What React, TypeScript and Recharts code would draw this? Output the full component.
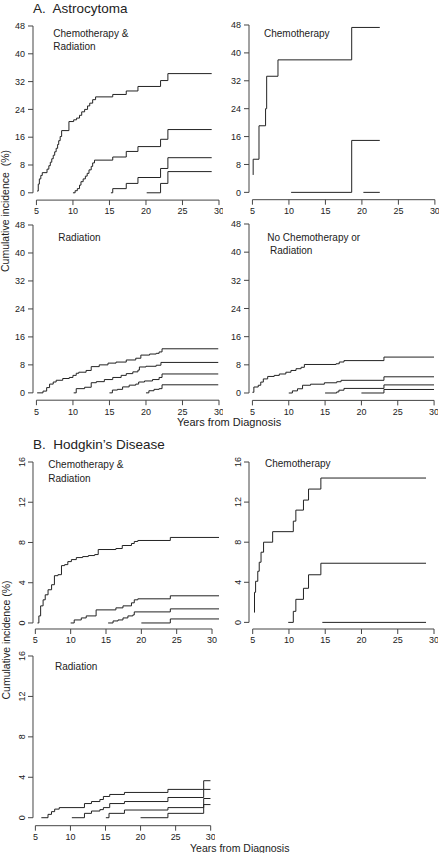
import React from "react";
import { LineChart, Line, XAxis, YAxis, ReferenceLine } from "recharts";

type Pt = [number, number];

const FONT = "'Liberation Sans', Arial, sans-serif";
const INK = "#222";
const AXIS = "#444";

const X_TICKS = [5, 10, 15, 20, 25, 30];
const ASTRO_Y_TICKS = [0, 8, 16, 24, 32, 40, 48];
const HODG_Y_TICKS = [0, 4, 8, 12, 16];

// A. Astrocytoma — chemotherapy & radiation
const AST_CR_1: Pt[] = [
  [5.1, 0.5], [5.25, 2.5], [5.4, 4.0], [5.6, 5.0], [5.8, 5.8], [6.45, 6.8], [6.7, 7.8], [6.9, 8.8],
  [7.1, 9.8], [7.3, 10.8], [7.5, 11.8], [7.7, 12.8], [7.9, 13.9], [8.05, 15.0], [8.25, 16.2], [8.45, 17.9],
  [9.45, 20.5], [10.1, 21.0], [10.5, 21.5], [10.9, 22.3], [11.2, 23.3], [11.6, 24.0], [12.0, 25.0],
  [12.3, 25.8], [12.7, 26.8], [13.1, 27.6], [15.45, 28.3], [17.3, 29.3], [18.9, 30.6], [22.0, 32.3],
  [23.0, 34.3], [29.0, 34.3],
];
const AST_CR_2: Pt[] = [
  [10.0, 0], [10.3, 0.6], [10.6, 1.2], [10.9, 2.2], [11.1, 3.2], [11.4, 4.0], [11.7, 4.8], [11.95, 5.6],
  [12.2, 6.6], [12.5, 7.6], [12.7, 8.6], [12.95, 9.4], [15.45, 10.3], [17.3, 11.9], [18.9, 13.3],
  [22.0, 15.4], [23.0, 18.2], [29.0, 18.2],
];
const AST_CR_3: Pt[] = [[15.2, 0], [15.45, 1.2], [17.3, 2.7], [18.9, 4.4], [22.0, 7.0], [23.0, 10.1], [29.0, 10.1]];
const AST_CR_4: Pt[] = [[20.1, 0], [22.0, 2.7], [23.0, 6.1], [29.0, 6.1]];

// A. Astrocytoma — chemotherapy
const AST_C_1: Pt[] = [[5.1, 5.0], [5.1, 9.5], [5.9, 19.1], [6.8, 24.0], [6.95, 33.3], [8.5, 38.0], [18.6, 47.3], [22.45, 47.3]];
const AST_C_2: Pt[] = [[10.3, 0], [18.6, 14.9], [22.45, 14.9]];
const AST_C_3: Pt[] = [[20.2, 0], [22.45, 0]];

// A. Astrocytoma — radiation
const AST_R_1: Pt[] = [
  [5.1, 0], [5.9, 0.5], [6.4, 1.5], [6.8, 2.5], [7.3, 3.1], [7.7, 3.6], [8.6, 4.1], [9.5, 4.4], [10.0, 5.0],
  [10.45, 5.6], [10.8, 5.9], [11.8, 6.4], [12.5, 7.5], [13.6, 8.0], [14.8, 8.5], [15.9, 8.8], [17.3, 9.4],
  [18.6, 9.9], [19.3, 10.8], [20.5, 11.1], [21.4, 11.3], [21.8, 11.7], [22.2, 12.6], [29.9, 12.6],
];
const AST_R_2: Pt[] = [
  [10.1, 0], [10.45, 1.2], [11.6, 1.6], [12.5, 2.9], [13.2, 3.2], [14.3, 3.8], [15.45, 4.4], [16.6, 5.0],
  [17.3, 5.5], [18.2, 6.0], [18.9, 6.5], [19.1, 7.4], [20.0, 7.6], [21.4, 7.9], [22.05, 8.7], [29.9, 8.7],
];
const AST_R_3: Pt[] = [
  [15.0, 0], [15.4, 0.8], [16.1, 1.0], [16.8, 1.7], [17.7, 2.2], [18.6, 2.5], [19.0, 3.1], [19.8, 3.4],
  [20.9, 3.8], [21.8, 4.4], [22.2, 5.4], [29.9, 5.4],
];
const AST_R_4: Pt[] = [[20.0, 0], [20.4, 0.6], [21.1, 1.0], [21.8, 1.2], [22.2, 2.3], [29.9, 2.3]];

// A. Astrocytoma — no chemotherapy or radiation
const AST_N_1: Pt[] = [
  [5.0, 0.2], [5.2, 1.7], [5.8, 2.2], [6.15, 3.1], [6.5, 4.0], [7.1, 4.7], [8.0, 5.0], [8.7, 5.4], [9.6, 5.9],
  [10.3, 6.4], [11.0, 6.9], [11.7, 7.3], [12.15, 8.1], [16.5, 8.3], [16.95, 8.8], [17.6, 9.2], [23.1, 10.2],
  [30.0, 10.2],
];
const AST_N_2: Pt[] = [
  [10.0, 0], [10.5, 0.6], [11.2, 1.2], [11.9, 2.2], [13.0, 2.5], [14.9, 2.9], [16.6, 3.2], [17.2, 3.6],
  [23.1, 4.6], [30.0, 4.6],
];
const AST_N_3: Pt[] = [[15.0, 0], [16.6, 0.3], [16.9, 0.8], [17.6, 1.3], [23.1, 2.3], [30.0, 2.3]];
const AST_N_4: Pt[] = [[20.0, 0], [23.1, 1.0], [30.0, 1.0]];

// B. Hodgkin's disease — chemotherapy & radiation
const HD_CR_1: Pt[] = [
  [5.3, 0], [5.5, 0.7], [5.75, 1.7], [6.1, 2.3], [6.4, 2.8], [6.8, 3.3], [7.3, 3.8], [7.7, 4.7], [8.2, 4.8],
  [8.7, 5.7], [9.15, 5.8], [9.6, 6.1], [10.1, 6.3], [10.8, 6.5], [11.7, 6.6], [12.5, 6.7], [13.4, 6.8],
  [13.9, 7.3], [16.4, 7.4], [17.3, 7.7], [18.6, 7.9], [19.0, 8.1], [19.5, 8.2], [24.1, 8.5], [31.0, 8.5],
];
const HD_CR_2: Pt[] = [
  [10.0, 0], [10.5, 0.3], [11.5, 0.5], [12.2, 0.7], [13.6, 1.3], [16.4, 1.5], [17.4, 1.7], [18.6, 2.0],
  [19.0, 2.3], [19.5, 2.4], [24.1, 2.7], [31.0, 2.7],
];
const HD_CR_3: Pt[] = [
  [15.3, 0], [16.0, 0.2], [16.7, 0.3], [17.4, 0.5], [18.1, 0.7], [18.8, 0.8], [19.0, 1.1], [24.1, 1.4], [31.0, 1.4],
];
const HD_CR_4: Pt[] = [[20.0, 0], [24.1, 0.4], [31.0, 0.4]];

// B. Hodgkin's disease — chemotherapy
const HD_C_1: Pt[] = [
  [5.2, 1.0], [5.25, 3.0], [5.4, 4.1], [5.7, 5.1], [5.9, 6.0], [6.15, 7.0], [6.5, 8.0], [7.75, 9.05],
  [10.6, 10.1], [10.95, 11.2], [12.0, 12.2], [12.7, 13.3], [14.4, 14.4], [28.9, 14.4],
];
const HD_C_2: Pt[] = [[9.9, 0], [10.6, 1.1], [10.95, 2.3], [12.0, 3.4], [12.7, 4.75], [14.4, 5.9], [28.9, 5.9]];
const HD_C_3: Pt[] = [[14.6, 0], [28.9, 0]];

// B. Hodgkin's disease — radiation
const HD_R_1: Pt[] = [
  [5.85, 0], [6.8, 0.33], [7.3, 0.6], [7.75, 0.85], [8.4, 1.0], [12.0, 1.4], [13.0, 1.6], [14.2, 1.8],
  [14.7, 2.1], [15.6, 2.3], [17.7, 2.5], [23.9, 2.8], [29.0, 3.66], [30.0, 3.66],
];
const HD_R_2: Pt[] = [
  [10.2, 0], [12.0, 0.43], [13.0, 0.66], [14.2, 0.8], [14.7, 1.0], [15.6, 1.4], [17.7, 1.6], [23.9, 2.0],
  [29.0, 2.8], [30.0, 2.8],
];
const HD_R_3: Pt[] = [[15.05, 0], [15.5, 0.43], [17.7, 0.76], [23.9, 1.0], [29.0, 1.9], [30.0, 1.9]];
const HD_R_4: Pt[] = [[20.0, 0], [23.9, 0.43], [29.0, 1.3], [30.0, 1.3]];

type Box = { x0: number; x1: number; y0: number; y1: number };

// eslint-disable-next-line @typescript-eslint/no-explicit-any
function RotatedTick(props: any) {
  const { x, y, payload } = props;
  return (
    <text
      x={x}
      y={y}
      transform={`rotate(-90 ${x} ${y})`}
      textAnchor="middle"
      fontSize={9}
      fill={INK}
      fontFamily={FONT}
    >
      {payload.value}
    </text>
  );
}

function Panel({
  series,
  box,
  xDomain,
  yDomain,
  yTicks,
  rotateY = false,
}: {
  series: Pt[][];
  box: Box;
  xDomain: [number, number];
  yDomain: [number, number];
  yTicks: number[];
  rotateY?: boolean;
}) {
  const yAxisW = 34;
  const top = 8;
  const right = 4;
  const xAxisH = 22;
  const width = box.x1 - box.x0 + yAxisW + right;
  const height = box.y1 - box.y0 + top + xAxisH;
  const tickStyle = { fontSize: 9, fill: INK, fontFamily: FONT };

  return (
    <div style={{ position: "absolute", left: box.x0 - yAxisW, top: box.y0 - top }}>
      <LineChart width={width} height={height} margin={{ top, right, bottom: 0, left: 0 }}>
        <XAxis
          type="number"
          dataKey="t"
          domain={xDomain}
          ticks={X_TICKS}
          interval={0}
          allowDataOverflow
          axisLine={false}
          tickLine={{ stroke: AXIS }}
          tickSize={5}
          tickMargin={3}
          tick={tickStyle}
          height={xAxisH}
        />
        <YAxis
          type="number"
          domain={yDomain}
          ticks={yTicks}
          interval={0}
          allowDataOverflow
          axisLine={false}
          tickLine={{ stroke: AXIS }}
          tickSize={5}
          tickMargin={3}
          tick={rotateY ? <RotatedTick /> : tickStyle}
          width={yAxisW}
        />
        <ReferenceLine
          segment={[
            { x: X_TICKS[0], y: yDomain[0] },
            { x: X_TICKS[X_TICKS.length - 1], y: yDomain[0] },
          ]}
          stroke={AXIS}
          ifOverflow="visible"
        />
        <ReferenceLine
          segment={[
            { x: xDomain[0], y: yTicks[0] },
            { x: xDomain[0], y: yTicks[yTicks.length - 1] },
          ]}
          stroke={AXIS}
          ifOverflow="visible"
        />
        {series.map((s, i) => (
          <Line
            key={i}
            data={s.map(([t, v]) => ({ t, v }))}
            dataKey="v"
            type="stepAfter"
            stroke={INK}
            strokeWidth={1}
            dot={false}
            activeDot={false}
            isAnimationActive={false}
          />
        ))}
      </LineChart>
    </div>
  );
}

function Label({ x, y, lines, size = 10 }: { x: number; y: number; lines: string[]; size?: number }) {
  return (
    <>
      {lines.map((l, i) => (
        <text key={i} x={x} y={y + i * 13.5} fontSize={size} fill={INK} fontFamily={FONT} style={{ whiteSpace: "pre" }}>
          {l}
        </text>
      ))}
    </>
  );
}

export default function App() {
  return (
    <div style={{ position: "absolute", left: 0, top: 0, width: 441, height: 853, background: "#fff" }}>
      <Panel
        series={[AST_CR_1, AST_CR_2, AST_CR_3, AST_CR_4]}
        box={{ x0: 33.3, x1: 219.3, y0: 25.7, y1: 199.8 }}
        xDomain={[4.53, 30]}
        yDomain={[-2.1, 48]}
        yTicks={ASTRO_Y_TICKS}
      />
      <Panel
        series={[AST_C_1, AST_C_2, AST_C_3]}
        box={{ x0: 249.3, x1: 435.2, y0: 25.3, y1: 200 }}
        xDomain={[4.53, 30]}
        yDomain={[-2.1, 48]}
        yTicks={ASTRO_Y_TICKS}
      />
      <Panel
        series={[AST_R_1, AST_R_2, AST_R_3, AST_R_4]}
        box={{ x0: 33.3, x1: 219.3, y0: 224.8, y1: 400 }}
        xDomain={[4.53, 30]}
        yDomain={[-2.1, 48]}
        yTicks={ASTRO_Y_TICKS}
      />
      <Panel
        series={[AST_N_1, AST_N_2, AST_N_3, AST_N_4]}
        box={{ x0: 248.9, x1: 434, y0: 224.3, y1: 400.7 }}
        xDomain={[4.53, 30]}
        yDomain={[-2.1, 48]}
        yTicks={ASTRO_Y_TICKS}
      />
      <Panel
        series={[HD_CR_1, HD_CR_2, HD_CR_3, HD_CR_4]}
        box={{ x0: 33, x1: 219.1, y0: 462.3, y1: 629.3 }}
        xDomain={[4.67, 31]}
        yDomain={[-0.6, 16]}
        yTicks={HODG_Y_TICKS}
        rotateY
      />
      <Panel
        series={[HD_C_1, HD_C_2, HD_C_3]}
        box={{ x0: 249, x1: 434, y0: 462.3, y1: 629.3 }}
        xDomain={[4.49, 30]}
        yDomain={[-0.66, 16]}
        yTicks={HODG_Y_TICKS}
        rotateY
      />
      <Panel
        series={[HD_R_1, HD_R_2, HD_R_3, HD_R_4]}
        box={{ x0: 33.3, x1: 211, y0: 656, y1: 825.7 }}
        xDomain={[4.66, 30]}
        yDomain={[-0.79, 16]}
        yTicks={HODG_Y_TICKS}
        rotateY
      />

      <svg width={441} height={853} style={{ position: "absolute", left: 0, top: 0, pointerEvents: "none" }}>
        <Label x={33} y={12.5} size={13.5} lines={["A.  Astrocytoma"]} />
        <Label x={33} y={448.5} size={13.5} lines={["B.  Hodgkin\u2019s Disease"]} />

        <Label x={53.3} y={36.5} lines={["Chemotherapy &", "Radiation"]} />
        <Label x={264} y={36.5} lines={["Chemotherapy"]} />
        <Label x={58.3} y={240.5} lines={["Radiation"]} />
        <Label x={267.3} y={240.5} lines={["No Chemotherapy or", " Radiation"]} />
        <Label x={48.3} y={468} lines={["Chemotherapy &", "Radiation"]} />
        <Label x={265} y={467} lines={["Chemotherapy"]} />
        <Label x={55} y={669.5} lines={["Radiation"]} />

        <text x={177} y={426} fontSize={11} fill={INK} fontFamily={FONT}>Years from Diagnosis</text>
        <text x={190} y={851.5} fontSize={10.5} fill={INK} fontFamily={FONT}>Years from Diagnosis</text>

        <text
          x={9}
          y={211}
          transform="rotate(-90 9 211)"
          textAnchor="middle"
          fontSize={10.5}
          fill={INK}
          fontFamily={FONT}
          style={{ whiteSpace: "pre" }}
        >
          {"Cumulative incidence  (%)"}
        </text>
        <text
          x={9.5}
          y={640}
          transform="rotate(-90 9.5 640)"
          textAnchor="middle"
          fontSize={10.5}
          fill={INK}
          fontFamily={FONT}
        >
          Cumulative incidence (%)
        </text>
      </svg>
    </div>
  );
}
